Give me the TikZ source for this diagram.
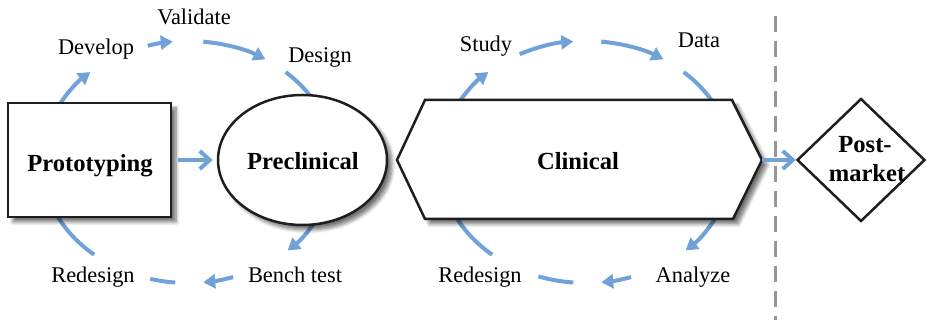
\documentclass[tikz,border=0pt]{standalone}
\usepackage{fontspec}
\setmainfont{Liberation Serif}
\usetikzlibrary{arrows.meta,shapes.geometric,shadows.blur}
\definecolor{cycblue}{RGB}{112,161,217}
\definecolor{outl}{RGB}{30,30,30}
\definecolor{dashgray}{RGB}{150,150,150}
\begin{document}
\begin{tikzpicture}[x=0.5pt,y=0.5pt,
  cyc/.style={draw=cycblue, line width=2pt},
  cyca/.style={cyc, -{Triangle[length=6pt,width=7pt]}},
  lbl/.style={font=\fontsize{11.2}{13}\selectfont, anchor=base, inner sep=0},
  blbl/.style={font=\fontsize{12.3}{14}\selectfont\bfseries, anchor=base, inner sep=0},
  shp/.style={draw=outl, line width=1.25pt, fill=white,
    blur shadow={shadow xshift=2.5pt, shadow yshift=-2.5pt, shadow blur steps=8, shadow opacity=55}},
  link/.style={draw=cycblue, line width=2pt, -{Straight Barb[length=5pt,width=9pt]}}
]
\useasboundingbox (0,0) rectangle (926,320);

% cycle centres
\coordinate (c1) at (188,158);
\coordinate (c2) at (586,158);

% cycle 1 arcs
\draw[cyca] (c1) ++(153:146 and 121) arc[start angle=153, end angle=132, x radius=146, y radius=121];
\draw[cyca] (c1) ++(106:146 and 121) arc[start angle=106, end angle=96, x radius=146, y radius=121];
\draw[cyca] (c1) ++(84:146 and 121) arc[start angle=84, end angle=58, x radius=146, y radius=121];
\draw[cyc] (c1) ++(48:146 and 121) arc[start angle=48, end angle=28, x radius=146, y radius=121];
\draw[cyca] (c1) ++(-25:146 and 121) arc[start angle=-25, end angle=-47, x radius=146, y radius=121];
\draw[cyca] (c1) ++(-72:146 and 121) arc[start angle=-72, end angle=-84, x radius=146, y radius=121];
\draw[cyc] (c1) ++(-95:146 and 121) arc[start angle=-95, end angle=-105, x radius=146, y radius=121];
\draw[cyc] (c1) ++(-130:146 and 121) arc[start angle=-130, end angle=-158, x radius=146, y radius=121];

% cycle 2 arcs
\draw[cyca] (c2) ++(153:146 and 121) arc[start angle=153, end angle=132, x radius=146, y radius=121];
\draw[cyca] (c2) ++(117:146 and 121) arc[start angle=117, end angle=95, x radius=146, y radius=121];
\draw[cyca] (c2) ++(84:146 and 121) arc[start angle=84, end angle=58, x radius=146, y radius=121];
\draw[cyc] (c2) ++(48:146 and 121) arc[start angle=48, end angle=25, x radius=146, y radius=121];
\draw[cyca] (c2) ++(-24:146 and 121) arc[start angle=-24, end angle=-47, x radius=146, y radius=121];
\draw[cyca] (c2) ++(-72:146 and 121) arc[start angle=-72, end angle=-84, x radius=146, y radius=121];
\draw[cyc] (c2) ++(-95:146 and 121) arc[start angle=-95, end angle=-109, x radius=146, y radius=121];
\draw[cyc] (c2) ++(-130:146 and 121) arc[start angle=-130, end angle=-160, x radius=146, y radius=121];

% main shapes
\node[shp, rectangle, minimum width=81.5pt, minimum height=57pt, inner sep=0] (proto) at (89.5,160) {};
\node[shp, ellipse, minimum width=84.5pt, minimum height=65pt, inner sep=0] (precl) at (302.5,160) {};
\coordinate (clinW) at (397,160);
\coordinate (clinE) at (762,160);
\draw[shp] (clinW) -- (425,220) -- (732,220) -- (clinE) -- (733,101) -- (425,101) -- cycle;
\node[draw=outl, line width=1.25pt, fill=white, diamond, minimum width=64pt, minimum height=61.5pt, inner sep=0] (post) at (861,160) {};

% main labels
\node[blbl] (protot) at (90,148) {Prototyping};
\node[blbl] (preclt) at (303,150) {Preclinical};
\node[blbl] (clint) at (578,150) {Clinical};
\node[blbl] (postt1) at (865,167) {Post-};
\node[blbl] (postt2) at (867,138) {market};

% cycle labels
\node[lbl] (develop) at (96,265) {Develop};
\node[lbl] (validate) at (194,295) {Validate};
\node[lbl] (design) at (320,257) {Design};
\node[lbl] (bench) at (295,37) {Bench test};
\node[lbl] (redes1) at (93,37) {Redesign};
\node[lbl] (study) at (486,268) {Study};
\node[lbl] (data) at (699,272) {Data};
\node[lbl] (analyze) at (693,37) {Analyze};
\node[lbl] (redes2) at (480,37) {Redesign};

% links
\draw[link, shorten <=3pt, shorten >=2pt] (proto.east) -- (precl.west);
\draw[link] (clinE) -- (post.west);

% dashed separator
\coordinate (dtop) at (775,304);
\coordinate (dbot) at (775,0);
\draw[dashgray, line width=1.5pt, dash pattern=on 8pt off 4.5pt] (dtop) -- (dbot);
\end{tikzpicture}
\end{document}
